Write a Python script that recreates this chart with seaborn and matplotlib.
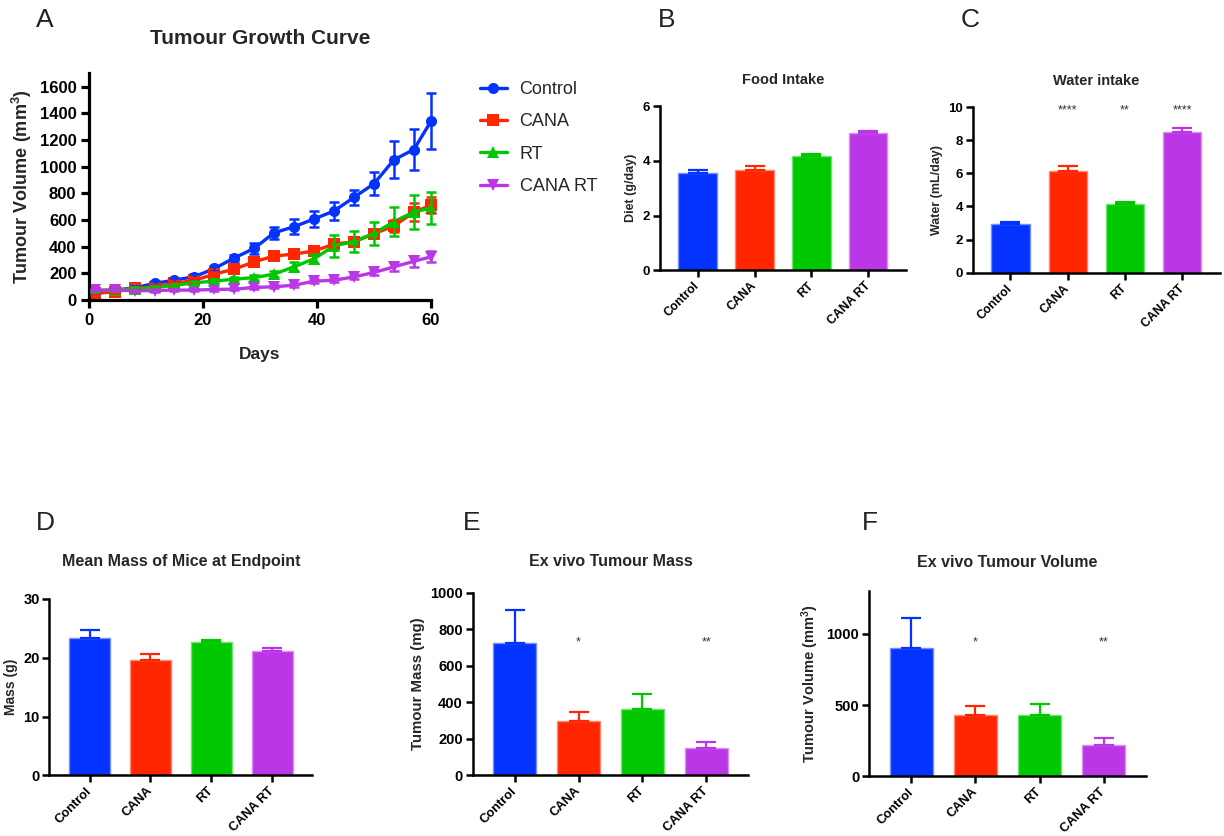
import numpy as np
import pandas as pd
import matplotlib
matplotlib.use('Agg')
import matplotlib.pyplot as plt
from matplotlib.lines import Line2D
from matplotlib.colors import to_rgb
import seaborn as sns

# ---------------- data ----------------
groups = ['Control', 'CANA', 'RT', 'CANA RT']
colors = ['#0433FF', '#FF2600', '#00C800', '#BB36E6']
markers = ['o', 's', '^', 'v']

days = [1, 4.5, 8, 11.5, 15, 18.5, 22, 25.5, 29, 32.5, 36, 39.5, 43, 46.5, 50, 53.5, 57, 60]
control_vol = [60, 75, 92, 125, 150, 175, 237, 316, 388, 505, 550, 608, 668, 770, 872, 1051, 1128, 1340]
control_err = [10, 10, 12, 15, 15, 18, 22, 22, 40, 45, 55, 60, 70, 58, 85, 140, 150, 210]
cana_vol = [50, 62, 88, 100, 125, 148, 195, 232, 288, 330, 345, 368, 420, 436, 498, 555, 660, 710]
cana_err = [8, 8, 10, 12, 12, 15, 15, 18, 18, 20, 20, 20, 25, 30, 30, 45, 65, 60]
rt_vol = [70, 78, 85, 95, 110, 130, 142, 157, 169, 195, 250, 310, 406, 440, 498, 588, 660, 690]
rt_err = [8, 8, 10, 12, 12, 15, 15, 15, 18, 20, 35, 35, 80, 80, 87, 110, 125, 120]
canart_vol = [75, 75, 70, 72, 75, 75, 80, 82, 95, 100, 112, 142, 149, 174, 207, 249, 291, 324]
canart_err = [8, 8, 8, 8, 8, 8, 8, 8, 10, 10, 12, 15, 15, 15, 20, 34, 41, 41]

food = [3.57, 3.67, 4.19, 5.00]
food_err = [0.09, 0.15, 0.07, 0.07]

water = [2.93, 6.15, 4.15, 8.47]
water_err = [0.10, 0.28, 0.13, 0.28]
water_stars = ['', '****', '**', '****']

mouse_mass = [23.3, 19.6, 22.6, 21.1]
mouse_mass_err = [1.5, 1.05, 0.5, 0.55]

tumour_mass = [726, 296, 363, 148]
tumour_mass_err = [180, 49, 84, 36]
tumour_mass_stars = ['', '*', '', '**']

tumour_vol = [902, 433, 433, 219]
tumour_vol_err = [210, 61, 75, 47]
tumour_vol_stars = ['', '*', '', '**']

# ---------------- style ----------------
sns.set_style('ticks')
plt.rcParams['font.family'] = ['Liberation Sans', 'DejaVu Sans']
plt.rcParams['axes.edgecolor'] = 'black'
plt.rcParams['xtick.color'] = 'black'
plt.rcParams['ytick.color'] = 'black'

fig = plt.figure(figsize=(12.24, 8.36), dpi=100)


def lighten(c, f=0.45):
    r, g, b = to_rgb(c)
    return (r + (1 - r) * f, g + (1 - g) * f, b + (1 - b) * f)


# ---------------- panel A ----------------
axA = fig.add_axes([0.0727, 0.641, 0.2794, 0.2715])
series = [control_vol, cana_vol, rt_vol, canart_vol]
errors = [control_err, cana_err, rt_err, canart_err]
frames = []
for g, v in zip(groups, series):
    frames.append(pd.DataFrame({'Day': days, 'Volume': v, 'Group': g}))
dfA = pd.concat(frames, ignore_index=True)

sns.lineplot(data=dfA, x='Day', y='Volume', hue='Group', style='Group',
             hue_order=groups, style_order=groups,
             palette=dict(zip(groups, colors)),
             markers=dict(zip(groups, markers)), dashes=False,
             linewidth=2.4, markersize=8, markeredgewidth=0,
             legend=False, ax=axA, clip_on=False)
for v, e, c in zip(series, errors, colors):
    axA.errorbar(days, v, yerr=e, fmt='none', ecolor=c, elinewidth=1.8,
                 capsize=3.7, capthick=1.8, clip_on=False, zorder=3)

axA.set_xlim(0, 60)
axA.set_ylim(0, 1700)
axA.set_xticks([0, 20, 40, 60])
axA.set_yticks(range(0, 1601, 200))
sns.despine(ax=axA)
for sp in ['left', 'bottom']:
    axA.spines[sp].set_linewidth(2.3)
axA.tick_params(direction='out', length=6, width=2.3, labelsize=12, pad=3)
for lab in axA.get_xticklabels() + axA.get_yticklabels():
    lab.set_fontweight('bold')
axA.set_xlabel('Days', fontsize=12.5, fontweight='bold', labelpad=14)
axA.set_ylabel('Tumour Volume (mm$\\mathregular{^3}$)', fontsize=13, fontweight='bold', labelpad=4)
axA.set_title('Tumour Growth Curve', fontsize=15, fontweight='bold', pad=21)

handles = [Line2D([0], [0], color=c, marker=m, lw=2.4, markersize=8, markeredgewidth=0)
           for c, m in zip(colors, markers)]
axA.legend(handles, groups, loc='upper left', bbox_to_anchor=(0.392, 0.903),
           bbox_transform=fig.transFigure, frameon=False, fontsize=13,
           handlelength=1.5, handletextpad=0.7, labelspacing=0.85,
           borderpad=0, borderaxespad=0)


# ---------------- bar panels ----------------
def bar_panel(rect, vals, errs, ylim, yticks, ylabel, title, title_size, title_pad,
              tick_size, xtick_size, label_size, stars=None, star_y=None, xlim=(-0.66, 3.66)):
    ax = fig.add_axes(rect)
    df = pd.DataFrame({'Group': groups, 'Value': vals})
    sns.barplot(data=df, x='Group', y='Value', hue='Group', order=groups, hue_order=groups,
                palette=dict(zip(groups, colors)), width=0.67, legend=False,
                errorbar=None, ax=ax, saturation=1)
    for p, c in zip(ax.patches, colors):
        p.set_edgecolor(lighten(c))
        p.set_linewidth(1.0)
    for i, (v, e, c) in enumerate(zip(vals, errs, colors)):
        ax.errorbar([i], [v], yerr=[[0], [e]], fmt='none', ecolor=c, elinewidth=1.6,
                    capsize=7, capthick=1.6, zorder=3)
    if stars is not None:
        for i, s in enumerate(stars):
            if s:
                ax.text(i, star_y, s, ha='center', va='center', fontsize=9, color='#333333')
    ax.set_xlim(*xlim)
    ax.set_ylim(*ylim)
    ax.set_yticks(yticks)
    ax.set_xticks(range(len(groups)))
    ax.set_xticklabels(groups, rotation=45, ha='right', va='center', rotation_mode='anchor',
                       fontweight='bold', fontsize=xtick_size)
    for lab in ax.get_yticklabels():
        lab.set_fontweight('bold')
        lab.set_fontsize(tick_size)
    sns.despine(ax=ax)
    for sp in ['left', 'bottom']:
        ax.spines[sp].set_linewidth(1.8)
    ax.tick_params(direction='out', length=5, width=1.8, pad=2)
    ax.tick_params(axis='x', pad=5)
    ax.set_xlabel('')
    ax.set_ylabel(ylabel, fontsize=label_size, fontweight='bold', labelpad=4)
    ax.set_title(title, fontsize=title_size, fontweight='bold', pad=title_pad)
    return ax


bar_panel([0.5392, 0.6767, 0.2010, 0.1965], food, food_err, (0, 6), [0, 2, 4, 6],
          'Diet (g/day)', 'Food Intake', 10.5, 16, 9.5, 8.8, 9)
bar_panel([0.7947, 0.6738, 0.2020, 0.1982], water, water_err, (0, 10), [0, 2, 4, 6, 8, 10],
          'Water (mL/day)', 'Water intake', 10.5, 16, 9.5, 8.8, 9,
          stars=water_stars, star_y=9.8)
bar_panel([0.0403, 0.0726, 0.2149, 0.2109], mouse_mass, mouse_mass_err, (0, 30), [0, 10, 20, 30],
          'Mass (g)', 'Mean Mass of Mice at Endpoint', 11.5, 24, 10.5, 9.3, 10)
bar_panel([0.3862, 0.0726, 0.2252, 0.2184], tumour_mass, tumour_mass_err, (0, 1000),
          [0, 200, 400, 600, 800, 1000],
          'Tumour Mass (mg)', 'Ex vivo Tumour Mass', 11.5, 19, 10.5, 9.3, 10.8,
          stars=tumour_mass_stars, star_y=725)
bar_panel([0.7100, 0.0714, 0.2263, 0.2217], tumour_vol, tumour_vol_err, (0, 1300), [0, 500, 1000],
          'Tumour Volume (mm$\\mathregular{^3}$)', 'Ex vivo Tumour Volume', 11.5, 17, 10.5, 9.3, 10.5,
          stars=tumour_vol_stars, star_y=940)

# panel letters
for letter, x, y in [('A', 45, 20), ('B', 667, 20), ('C', 970, 20),
                     ('D', 45, 523), ('E', 472, 523), ('F', 870, 523)]:
    fig.text(x / 1224, 1 - y / 836, letter, fontsize=19, ha='center', va='center', color='#222222')

fig.savefig('out.png', dpi=100)
